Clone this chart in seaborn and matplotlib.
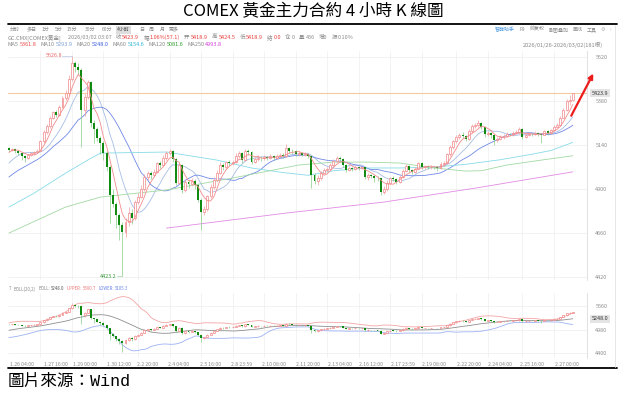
import numpy as np
import pandas as pd
import seaborn as sns
import matplotlib.pyplot as plt

# COMEX gold, 4-hour bars 2026/01/26 - 2026/03/02
# bars before the first visible one, only used to warm up MA10 / MA20 / BOLL
warmup = [4850, 4860, 4870, 4880, 4885, 4890, 4900, 4910, 4920, 4935,
          4950, 4965, 4980, 4990, 5025, 5070, 5090, 5105, 5125]

closes = [5112, 5118, 5105, 5098, 5080, 5072, 5085, 5095, 5102, 5110,
          5160, 5210, 5245, 5290, 5318, 5305, 5350, 5395, 5424, 5500,
          5587, 5565, 5550, 5330, 5400, 5484, 5260, 5230, 5180, 5150,
          5095, 5020, 4870, 4820, 4760, 4705, 4665, 4720, 4770, 4740,
          4830, 4856, 4900, 4965, 4985, 4975, 4995, 5040, 5030, 5070,
          5095, 5110, 5065, 4935, 5030, 4895, 4940, 4925, 4945, 4920,
          4840, 4775, 4790, 4860, 4910, 4950, 4990, 5030, 5020, 5045,
          5040, 5047, 5080, 5095, 5060, 5110, 5100, 5047, 5065, 5072,
          5068, 5075, 5070, 5080, 5072, 5078, 5085, 5080, 5125, 5110,
          5105, 5090, 5095, 5088, 5092, 5080, 4977, 4945, 4960, 4990,
          5005, 5012, 5030, 5055, 5070, 5065, 5030, 5005, 5015, 5010,
          5020, 5015, 5018, 4965, 4975, 4970, 4962, 4958, 4885, 4900,
          4935, 4958, 4955, 4940, 4965, 5000, 5025, 5005, 4992, 5010,
          5040, 5022, 5025, 5018, 5022, 5020, 5015, 5035, 5042, 5090,
          5130, 5160, 5183, 5195, 5190, 5175, 5215, 5245, 5250, 5262,
          5240, 5198, 5205, 5195, 5168, 5175, 5185, 5190, 5200, 5198,
          5205, 5210, 5230, 5182, 5195, 5200, 5198, 5205, 5200, 5196,
          5215, 5205, 5220, 5240, 5250, 5290, 5330, 5380, 5385, 5423.9]

highs = [5130, 5125, 5122, 5110, 5102, 5088, 5092, 5100, 5110, 5118,
         5168, 5220, 5255, 5300, 5325, 5330, 5360, 5405, 5440, 5520,
         5626.8, 5600, 5585, 5560, 5420, 5495, 5490, 5275, 5240, 5190,
         5160, 5105, 5030, 4900, 4830, 4770, 4720, 4740, 4800, 4790,
         4840, 4880, 4920, 4980, 5000, 5000, 5010, 5050, 5055, 5085,
         5110, 5118, 5115, 5070, 5040, 5035, 4955, 4950, 4960, 4955,
         4930, 4850, 4810, 4870, 4925, 4965, 5005, 5045, 5040, 5055,
         5060, 5058, 5095, 5105, 5100, 5118, 5120, 5105, 5075, 5085,
         5080, 5085, 5082, 5092, 5088, 5090, 5095, 5095, 5148, 5132,
         5120, 5115, 5105, 5102, 5100, 5098, 5085, 4985, 4975, 5000,
         5015, 5022, 5040, 5065, 5080, 5078, 5070, 5035, 5025, 5022,
         5030, 5028, 5026, 5022, 4985, 4982, 4978, 4970, 4962, 4915,
         4948, 4968, 4970, 4962, 4975, 5010, 5035, 5030, 5012, 5020,
         5048, 5045, 5032, 5030, 5030, 5028, 5026, 5045, 5052, 5098,
         5140, 5170, 5195, 5205, 5210, 5196, 5225, 5255, 5262, 5278,
         5268, 5245, 5215, 5210, 5200, 5185, 5195, 5198, 5210, 5208,
         5215, 5220, 5238, 5235, 5205, 5210, 5208, 5215, 5210, 5205,
         5222, 5220, 5228, 5248, 5258, 5300, 5340, 5392, 5415, 5424.5]

lows = [5100, 5105, 5095, 5088, 5060, 5050, 5065, 5080, 5088, 5095,
        5105, 5150, 5200, 5235, 5280, 5295, 5300, 5340, 5385, 5415,
        5490, 5540, 5520, 5130, 5300, 5390, 5240, 5150, 5160, 5090,
        5060, 5000, 4715, 4800, 4690, 4620, 4423.2, 4640, 4700, 4710,
        4730, 4820, 4850, 4890, 4950, 4955, 4965, 4985, 5015, 5025,
        5060, 5085, 5050, 4920, 4925, 4880, 4885, 4905, 4915, 4900,
        4830, 4676, 4760, 4780, 4850, 4900, 4940, 4980, 5005, 5010,
        5025, 5030, 5040, 5070, 5040, 5055, 5085, 5035, 5040, 5055,
        5055, 5060, 5058, 5062, 5060, 5065, 5070, 5068, 5075, 5095,
        5090, 5080, 5082, 5078, 5080, 5070, 4905, 4930, 4920, 4950,
        4980, 4995, 5005, 5020, 5045, 5050, 5020, 4995, 4998, 5000,
        5002, 5005, 5008, 4955, 4950, 4958, 4940, 4945, 4870, 4872,
        4890, 4925, 4942, 4930, 4935, 4958, 4992, 4995, 4982, 4985,
        5005, 5012, 5012, 5008, 5010, 5010, 5000, 5010, 5028, 5035,
        5080, 5120, 5150, 5175, 5180, 5160, 5170, 5205, 5235, 5240,
        5225, 5185, 5188, 5180, 5140, 5158, 5165, 5172, 5182, 5188,
        5190, 5198, 5200, 5175, 5178, 5188, 5190, 5195, 5190, 5150,
        5195, 5195, 5200, 5215, 5238, 5245, 5285, 5325, 5360, 5380]

# long moving averages at a few bars
ma60_bars = [0, 8, 18, 25, 29, 50, 66, 77, 87, 95, 103, 114, 124, 135, 145, 156, 166, 172, 179]
ma60_vals = [4802, 4878, 4987, 5058, 5096, 5102, 5058, 5015, 4990, 4975, 5000, 5015, 5015,
             5020, 5035, 5060, 5090, 5110, 5154.6]
ma120_bars = [0, 18, 29, 50, 71, 92, 103, 114, 124, 135, 145, 150, 158, 169, 179]
ma120_vals = [4660, 4802, 4856, 4895, 4960, 5031, 5047, 5047, 5042, 5015, 4998, 5000, 5031, 5058, 5081.6]
ma250_bars = [50, 88, 119, 148, 179]
ma250_vals = [4687, 4769, 4829, 4905, 4993.8]

tick_bars = [4, 15, 24, 35, 44, 54, 64, 74, 84, 95, 105, 115, 125, 135, 146, 156, 166, 177]
tick_labels = ['1.26 04:00', '1.27 16:00', '1.29 00:00', '1.30 12:00', '2.2 20:00', '2.4 04:00',
               '2.5 16:00', '2.8 23:59', '2.10 08:00', '2.11 20:00', '2.13 04:00', '2.16 12:00',
               '2.17 23:59', '2.19 08:00', '2.22 20:00', '2.24 04:00', '2.25 16:00', '2.27 00:00']
grid_bars = [10, 20, 30, 41, 51, 61, 71, 81, 91, 101, 111, 121, 131, 142, 152, 163, 173]

periods = ['分时', '多日', '1分', '5分', '15分', '30分', '60分', '4小时', '日', '周', '月', '更多']
period_x = [10, 27, 42, 55, 67, 85, 102, 117, 139, 149, 160, 169]

last_price = 5423.9

df = pd.DataFrame({'close': closes, 'high': highs, 'low': lows})
df['open'] = df['close'].shift(1).fillna(warmup[-1])
df['bar'] = np.arange(len(df))
allc = pd.Series(warmup + closes)
n0 = len(warmup)
ma5 = allc.rolling(5).mean().iloc[n0:].values
ma10 = allc.rolling(10).mean().iloc[n0:].values
ma20 = allc.rolling(20).mean().iloc[n0:].values
sd20 = allc.rolling(20).std(ddof=0).iloc[n0:].values
upper = ma20 + 2 * sd20
lower = ma20 - 2 * sd20

sns.set_theme(style='white')
plt.rcParams['font.family'] = ['Noto Sans CJK SC', 'DejaVu Sans']

W, H = 627, 394
fig = plt.figure(figsize=(W / 100, H / 100), dpi=100)
ax = fig.add_axes([8 / W, 1 - 280 / H, 579 / W, 229 / H])
ax2 = fig.add_axes([8 / W, 1 - 358 / H, 579 / W, 65 / H])

GRAY = '#8a8a8a'
RED = '#e8413c'
FS = 4.0


def candles(a, minh):
    up = df[df.close >= df.open]
    dn = df[df.close < df.open]
    a.vlines(up.bar, up.low, up.high, color='#f3a0a0', lw=0.5, zorder=3)
    a.bar(up.bar, (up.close - up.open).clip(lower=minh), bottom=up.open, width=0.62,
          facecolor='white', edgecolor='#f08787', lw=0.5, zorder=4)
    a.vlines(dn.bar, dn.low, dn.high, color='#86cc86', lw=0.5, zorder=3)
    a.bar(dn.bar, (dn.open - dn.close).clip(lower=minh), bottom=dn.close, width=0.62,
          color='#118a11', lw=0, zorder=4)


for a in (ax, ax2):
    a.set_xlim(-0.3, 183.5)
    a.set_xticks(grid_bars, minor=True)
    a.grid(axis='x', which='minor', color='#eeeeee', lw=0.5)
    a.grid(axis='y', which='major', color='#ededed', lw=0.5)
    a.grid(axis='x', which='major', visible=False)
    a.yaxis.tick_right()
    a.tick_params(axis='both', which='both', length=0, labelsize=3.9, labelcolor='#8c8c8c', pad=6)
    for s in ['top', 'left', 'bottom']:
        a.spines[s].set_visible(False)
    a.spines['right'].set_color('#dcdcdc')
    a.spines['right'].set_linewidth(0.6)

# main K-line panel
candles(ax, 2)
lw = 0.6
sns.lineplot(x=df.bar, y=ma5, ax=ax, color='#f28c8c', lw=lw, zorder=5)
sns.lineplot(x=df.bar, y=ma10, ax=ax, color='#a6bde3', lw=lw, zorder=2)
sns.lineplot(x=df.bar, y=ma20, ax=ax, color='#6f88e6', lw=lw, zorder=2)
sns.lineplot(x=ma60_bars, y=ma60_vals, ax=ax, color='#86dbe8', lw=lw, zorder=2)
sns.lineplot(x=ma120_bars, y=ma120_vals, ax=ax, color='#a2d9a2', lw=lw, zorder=2)
sns.lineplot(x=ma250_bars, y=ma250_vals, ax=ax, color='#e38ae6', lw=lw, zorder=2)
ax.axhline(last_price, color='#f7cba0', lw=0.8, zorder=1)
ax.set_ylim(4404, 5653)
ax.set_yticks([4420, 4660, 4900, 5140, 5380, 5620])
ax.set_xticks([])
ax.set_xlabel('')
ax.set_ylabel('')
ax.text(1.008, last_price, f'{last_price:.1f}', transform=ax.get_yaxis_transform(), fontsize=3.9,
        color='#333333', va='center', ha='left',
        bbox=dict(facecolor='#e4e4e4', edgecolor='none', boxstyle='square,pad=0.3'))

# highest / lowest markers
ih = int(np.argmax(highs))
il = int(np.argmin(lows))
ax.plot([ih - 3, ih], [highs[ih], highs[ih]], color='#b9c6e6', lw=0.5, zorder=5)
ax.text(ih - 3.2, highs[ih], f'{highs[ih]:.1f}', fontsize=3.9, color='#e86a6a', ha='right', va='center')
ax.plot([il - 1.8, il], [lows[il], lows[il]], color='#9fd39f', lw=0.5, zorder=5)
ax.text(il - 2, lows[il], f'{lows[il]:.1f}', fontsize=3.9, color='#3c9a3c', ha='right', va='center')

# trend arrow after the last bar
nb = len(closes)
ax.annotate('', xy=(nb + 5.5, 5530), xytext=(nb - 1.5, 5300), annotation_clip=False,
            arrowprops=dict(arrowstyle='-|>', color='#ec1c1c', lw=1.6, mutation_scale=7,
                            shrinkA=0, shrinkB=0))

# BOLL panel
candles(ax2, 6)
sns.lineplot(x=df.bar, y=ma20, ax=ax2, color='#8f8f8f', lw=lw, zorder=2)
sns.lineplot(x=df.bar, y=upper, ax=ax2, color='#f3a5a5', lw=lw, zorder=2)
sns.lineplot(x=df.bar, y=lower, ax=ax2, color='#9cb2f4', lw=lw, zorder=2)
ax2.set_ylim(4285, 5879)
ax2.set_yticks([4400, 4980, 5560])
ax2.set_xticks(tick_bars)
ax2.set_xticklabels(tick_labels)
ax2.tick_params(axis='x', pad=3, labelsize=3.7)
ax2.set_xlabel('')
ax2.set_ylabel('')
ax2.text(1.008, ma20[-1], f'{ma20[-1]:.1f}', transform=ax2.get_yaxis_transform(), fontsize=3.9,
         color='#333333', va='center', ha='left',
         bbox=dict(facecolor='#e4e4e4', edgecolor='none', boxstyle='square,pad=0.3'))

renderer = fig.canvas.get_renderer()


def row(x, y, parts, size=FS):
    # parts: (text, colour, gap in px after it)
    for s, c, g in parts:
        t = fig.text(x / W, 1 - y / H, s, color=c, fontsize=size, va='center', ha='left')
        x += t.get_window_extent(renderer).width + g


# header texts of the screenshot
fig.text(313 / W, 1 - 12 / H, 'COMEX 黃金主力合約 4 小時 K 線圖', fontsize=12, ha='center', va='center',
         family=['Noto Sans CJK TC', 'DejaVu Sans'], color='black')
for p, px in zip(periods, period_x):
    if p == '4小时':
        fig.text(px / W, 1 - 29.5 / H, p, fontsize=3.6, color='#444444', va='center',
                 bbox=dict(facecolor='#dddddd', edgecolor='none', boxstyle='square,pad=0.3'))
    else:
        fig.text(px / W, 1 - 29.5 / H, p, fontsize=3.6, color=GRAY, va='center')
row(495, 29.5, [('智能助手', '#4f9be0', 5), ('F9', GRAY, 4), ('前复权', GRAY, 4), ('副图叠加', GRAY, 4),
                ('画线', GRAY, 4), ('工具', GRAY, 4), ('⚙', '#aaaaaa', 5), ('›', '#aaaaaa', 0)], size=3.6)
row(8, 37.5, [('GC.CMX[COMEX黄金]', GRAY, 6), ('2026/03/02 03:07', GRAY, 4), ('收', GRAY, 1.2),
              ('5423.9', RED, 4), ('幅', GRAY, 1.2), ('1.06%(57.1)', RED, 4), ('开', GRAY, 1.2),
              ('5418.9', RED, 4), ('高', GRAY, 1.2), ('5424.5', RED, 4), ('低', GRAY, 1.2),
              ('5418.9', RED, 4), ('结', GRAY, 1.2), ('0.0', RED, 4), ('仓', GRAY, 1.2), ('0', GRAY, 4),
              ('量', GRAY, 1.2), ('456', GRAY, 4), ('增0', GRAY, 4), ('振', GRAY, 1.2), ('0.10%', GRAY, 0)])
row(8, 44.5, [('MA5', GRAY, 1.2), (f'{ma5[-1]:.1f}', '#ea4c4c', 3.8), ('MA10', GRAY, 1.2), (f'{ma10[-1]:.1f}', '#7a9fd4', 3.8),
              ('MA20', GRAY, 1.2), (f'{ma20[-1]:.1f}', '#3d5fe0', 3.8), ('MA60', GRAY, 1.2), ('5154.6', '#2fb6d6', 3.8),
              ('MA120', GRAY, 1.2), ('5081.6', '#2e9e2e', 3.8), ('MA250', GRAY, 1.2), ('4993.8', '#d23fd6', 0)])
fig.text(603 / W, 1 - 44.5 / H, '2026/01/26-2026/03/02(181根)', fontsize=4.1, color=GRAY, ha='right', va='center')
row(9, 289, [('7', GRAY, 2.4), ('BOLL(20,2)', GRAY, 2.4), ('BOLL:', GRAY, 1), (f'{ma20[-1]:.1f}', '#555555', 2.4),
             ('UPPER:', '#f07878', 1), (f'{upper[-1]:.1f}', '#f07878', 2.4),
             ('LOWER:', '#6a86ea', 1), (f'{lower[-1]:.1f}', '#6a86ea', 0)], size=3.1)

fig.add_artist(plt.Line2D([8 / W, 617 / W], [1 - 24 / H] * 2, color='black', lw=1.3))
fig.add_artist(plt.Line2D([8 / W, 617 / W], [1 - 368 / H] * 2, color='black', lw=1.3))
fig.add_artist(plt.Line2D([615 / W, 615 / W], [1 - 25 / H, 1 - 367 / H], color='#e2e2e2', lw=0.6))

fig.text(8 / W, 1 - 381 / H, '圖片來源：Wind', fontsize=12, ha='left', va='center', color='black',
         family=['Liberation Mono', 'Noto Sans CJK TC'])

fig.savefig('out.png', dpi=100)
